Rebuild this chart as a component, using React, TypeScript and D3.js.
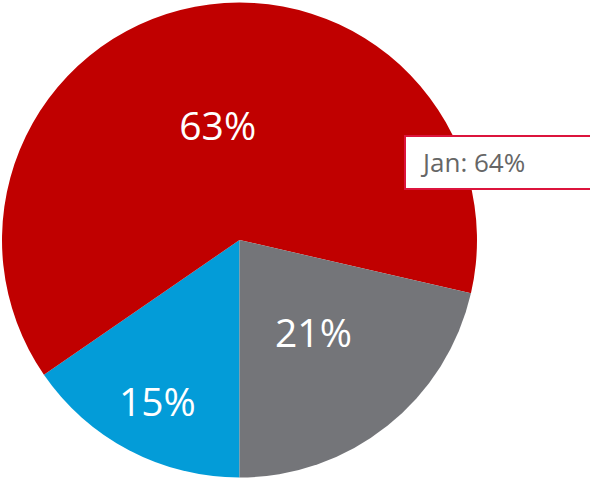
import React from "react";
import * as d3 from "d3";

const categories = ["Blue", "Red", "Gray"];
const values = [15.4, 63.2, 21.4];
const labels = ["15%", "63%", "21%"];
const colors = ["#039cd8", "#c00000", "#747579"];
const labelRadiusFactor = [0.77, 0.49, 0.5];

const tooltipCategory = "Jan";
const tooltipValue = 64;

const W = 590;
const H = 483;
const cx = 239.5;
const cy = 240;
const R = 237.5;

export default function App() {
  const pie = d3
    .pie<number>()
    .sort(null)
    .startAngle(Math.PI)
    .endAngle(Math.PI * 3)
    .value((d) => d);
  const arcs = pie(values);
  const arc = d3.arc<d3.PieArcDatum<number>>().innerRadius(0).outerRadius(R);

  return (
    <svg
      width={W}
      height={H}
      style={{ position: "absolute", left: 0, top: 0, background: "#fff" }}
      fontFamily="'Open Sans', sans-serif"
    >
      <g transform={`translate(${cx},${cy})`}>
        {arcs.map((a, i) => (
          <path key={categories[i]} d={arc(a) || ""} fill={colors[i]} />
        ))}
        {arcs.map((a, i) => {
          const lr = R * labelRadiusFactor[i];
          const la = d3
            .arc<d3.PieArcDatum<number>>()
            .innerRadius(lr)
            .outerRadius(lr);
          const [x, y] = la.centroid(a);
          return (
            <text
              key={"l" + categories[i]}
              x={x + (i === 0 ? 3 : 0)}
              y={y}
              dy="0.36em"
              textAnchor="middle"
              fill="#fff"
              fontSize={39}
            >
              {labels[i]}
            </text>
          );
        })}
      </g>
      <g>
        <rect
          x={405}
          y={136}
          width={200}
          height={53}
          fill="#fff"
          stroke="#dc143c"
          strokeWidth={2}
        />
        <text x={423} y={172} fill="#666" fontSize={26}>
          {`${tooltipCategory}: ${tooltipValue}%`}
        </text>
      </g>
    </svg>
  );
}
